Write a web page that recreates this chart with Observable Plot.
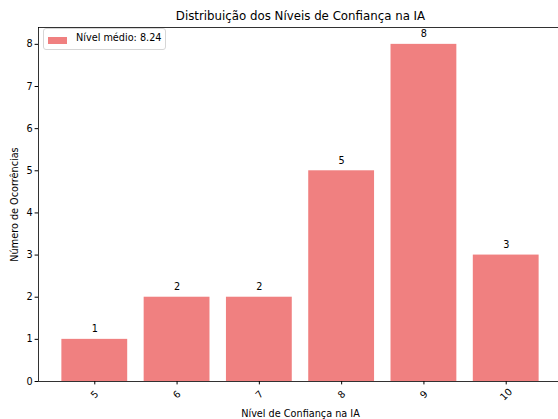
<!DOCTYPE html>
<html>
<head>
<meta charset="utf-8">
<script src="https://cdn.jsdelivr.net/npm/d3@7"></script>
<script src="https://cdn.jsdelivr.net/npm/@observablehq/plot@0.6"></script>
<style>
  html, body { margin: 0; padding: 0; background: white; overflow: hidden; }
  #wrap { position: relative; width: 558px; height: 419px; overflow: hidden; font-family: "DejaVu Sans", sans-serif; }
  #wrap svg { max-width: none !important; display: block; }
  #legend {
    position: absolute; left: 43px; top: 28px; width: 121px; height: 20px;
    border: 1px solid #d6d6d6; border-radius: 3px; background: rgba(255,255,255,0.8);
    font-size: 9.7px; color: #000; box-sizing: content-box;
  }
  #legend .patch { position: absolute; left: 4px; top: 8px; width: 19px; height: 7px; background: #F08080; }
  #legend .lbl { position: absolute; left: 32px; top: 3px; white-space: nowrap; }
</style>
</head>
<body>
<div id="wrap"></div>
<script>
const levels = [5, 6, 7, 8, 9, 10];
const counts = [1, 2, 2, 5, 8, 3];
const yTicks = [0, 1, 2, 3, 4, 5, 6, 7, 8];
const meanLevel = 8.24;
const title = "Distribuição dos Níveis de Confiança na IA";
const xLabel = "Nível de Confiança na IA";
const yLabel = "Número de Ocorrências";
const barColor = "#F08080";

const data = levels.map((l, i) => ({level: l, count: counts[i]}));

const W = 563, H = 419;
const mL = 38, mR = 1, mT = 27, mB = 38;
const half = 0.684;

const chart = Plot.plot({
  width: W,
  height: H,
  marginLeft: mL,
  marginRight: mR,
  marginTop: mT,
  marginBottom: mB,
  style: {fontFamily: "DejaVu Sans, sans-serif", fontSize: "9.7px", color: "black", background: "white", maxWidth: "none"},
  x: {type: "linear", domain: [levels[0] - half, levels[levels.length - 1] + half], axis: null},
  y: {domain: [0, 8.4], axis: null},
  marks: [
    Plot.rectY(data, {x1: d => d.level - 0.4, x2: d => d.level + 0.4, y: "count", fill: barColor}),
    Plot.text(data, {x: "level", y: "count", text: d => String(d.count), dy: -10, lineAnchor: "middle", fontSize: 9.7, fill: "black"}),
    Plot.axisY({ticks: yTicks, tickSize: 3.4, tickPadding: 2.5, tickFormat: d => String(d), label: null, fontSize: 9.7}),
    Plot.axisX({ticks: levels, tickSize: 3.4, tickFormat: () => "", label: null}),
    Plot.text(levels, {x: d => d, frameAnchor: "bottom", dy: 13, rotate: -45, textAnchor: "middle", lineAnchor: "middle", text: d => String(d), fontSize: 9.7, fill: "black"}),
    Plot.frame({stroke: "black", strokeWidth: 0.8}),
    Plot.text([title], {frameAnchor: "top", dy: -11, lineAnchor: "middle", fontSize: 11.8, fill: "black", text: d => d}),
    Plot.text([xLabel], {frameAnchor: "bottom", dy: 32, lineAnchor: "middle", fontSize: 9.7, fill: "black", text: d => d}),
    Plot.text([yLabel], {frameAnchor: "left", dx: -24, rotate: -90, lineAnchor: "middle", textAnchor: "middle", fontSize: 9.7, fill: "black", text: d => d})
  ]
});

const wrap = document.getElementById("wrap");
wrap.appendChild(chart);

const leg = document.createElement("div");
leg.id = "legend";
leg.innerHTML = `<div class="patch"></div><div class="lbl">Nível médio: ${meanLevel.toFixed(2)}</div>`;
wrap.appendChild(leg);
</script>
</body>
</html>
